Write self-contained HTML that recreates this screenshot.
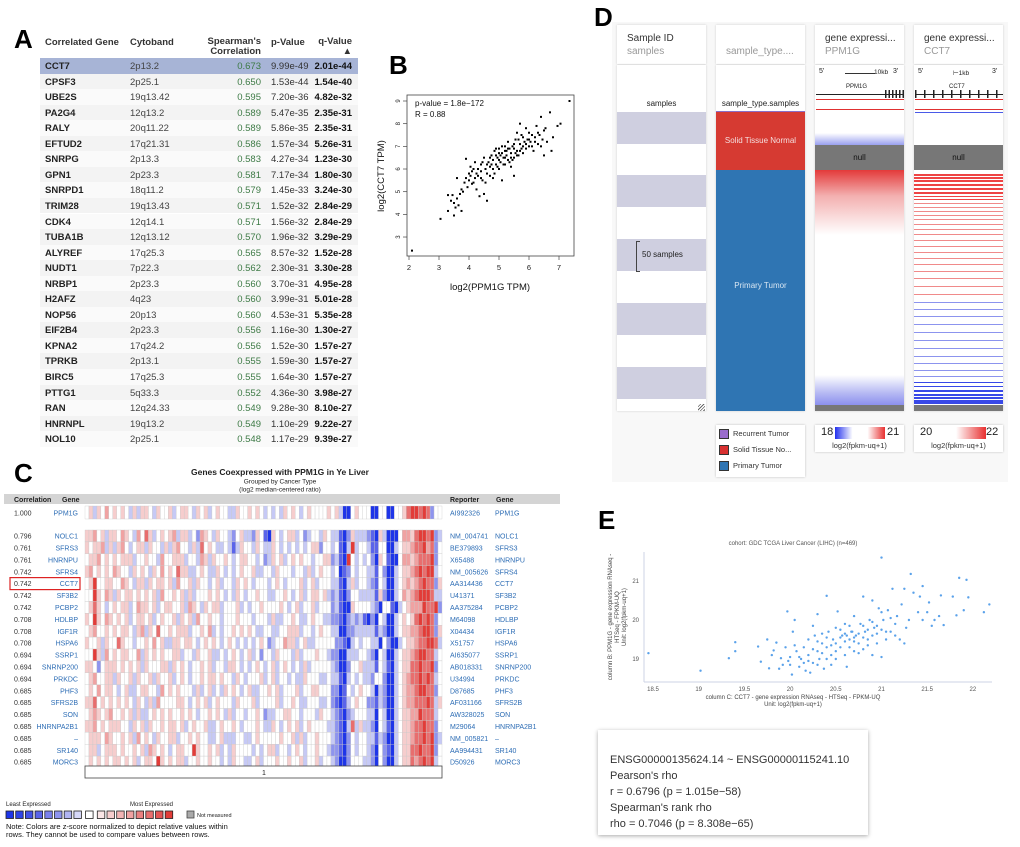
<!DOCTYPE html>
<html><head><meta charset="utf-8">
<style>
body{margin:0;background:#fff;font-family:"Liberation Sans",sans-serif;}
#root{position:relative;width:1020px;height:847px;overflow:hidden;background:#fff;}
.abs{position:absolute;white-space:nowrap;}
.lbl{position:absolute;font-weight:bold;font-size:26px;color:#000;}
.tr{position:absolute;left:40px;width:318px;height:15.5px;font-size:9.5px;color:#222;}
.tr span{position:absolute;top:3px;white-space:nowrap;}
</style></head><body>
<div id="root">

<!-- Panel A -->
<div class="lbl" style="left:14px;top:24px;">A</div>
<div class="abs" id="tableA" style="left:0;top:0;">
  <div class="abs" style="left:45px;top:37px;font-size:9.5px;font-weight:bold;color:#333;">Correlated Gene</div>
  <div class="abs" style="left:130px;top:37px;font-size:9.5px;font-weight:bold;color:#333;">Cytoband</div>
  <div class="abs" style="left:190px;width:71px;top:37px;font-size:9.5px;font-weight:bold;color:#333;text-align:right;line-height:10px;">Spearman's<br>Correlation</div>
  <div class="abs" style="left:271px;top:37px;font-size:9.5px;font-weight:bold;color:#333;">p-Value</div>
  <div class="abs" style="left:300px;width:52px;top:37px;font-size:9.5px;font-weight:bold;color:#333;text-align:right;line-height:10px;">q-Value<br>▲</div>
</div>

<!-- Panel B -->
<div class="lbl" style="left:389px;top:50px;">B</div>
<svg class="abs" id="svgB" style="left:370px;top:80px;" width="220" height="220"></svg>

<!-- Panel C -->
<div class="lbl" style="left:14px;top:458px;">C</div>
<svg class="abs" id="svgC" style="left:0;top:460px;" width="560" height="387"></svg>

<!-- Panel D -->
<div class="lbl" style="left:594px;top:2px;">D</div>
<div class="abs" style="left:612px;top:22px;width:396px;height:460px;background:#f8f8f8;"></div>
<div id="panelD"></div>

<!-- Panel E -->
<div class="lbl" style="left:598px;top:505px;">E</div>
<svg class="abs" id="svgE" style="left:590px;top:530px;" width="430" height="190"></svg>
<div class="abs" style="left:598px;top:730px;width:270px;height:105px;background:#fff;box-shadow:0 1px 4px #aaa;font-size:11px;color:#333;line-height:16px;padding:0;">
  <div style="position:absolute;left:12px;top:22px;white-space:nowrap;">ENSG00000135624.14 ~ ENSG00000115241.10<br>Pearson's rho<br>r = 0.6796 (p = 1.015e−58)<br>Spearman's rank rho<br>rho = 0.7046 (p = 8.308e−65)</div>
</div>
</div>

<script>
const NS='http://www.w3.org/2000/svg';
function S(p,tag,at,txt){const e=document.createElementNS(NS,tag);for(const k in at)e.setAttribute(k,at[k]);if(txt!==undefined)e.textContent=txt;p.appendChild(e);return e;}

/* ---------- Panel A data ---------- */
const genesA=['CCT7','CPSF3','UBE2S','PA2G4','RALY','EFTUD2','SNRPG','GPN1','SNRPD1','TRIM28','CDK4','TUBA1B','ALYREF','NUDT1','NRBP1','H2AFZ','NOP56','EIF2B4','KPNA2','TPRKB','BIRC5','PTTG1','RAN','HNRNPL','NOL10'];
const cytoA=['2p13.2','2p25.1','19q13.42','12q13.2','20q11.22','17q21.31','2p13.3','2p23.3','18q11.2','19q13.43','12q14.1','12q13.12','17q25.3','7p22.3','2p23.3','4q23','20p13','2p23.3','17q24.2','2p13.1','17q25.3','5q33.3','12q24.33','19q13.2','2p25.1'];
const corrA=['0.673','0.650','0.595','0.589','0.589','0.586','0.583','0.581','0.579','0.571','0.571','0.570','0.565','0.562','0.560','0.560','0.560','0.556','0.556','0.555','0.555','0.552','0.549','0.549','0.548'];
const pA=['9.99e-49','1.53e-44','7.20e-36','5.47e-35','5.86e-35','1.57e-34','4.27e-34','7.17e-34','1.45e-33','1.52e-32','1.56e-32','1.96e-32','8.57e-32','2.30e-31','3.70e-31','3.99e-31','4.53e-31','1.16e-30','1.52e-30','1.59e-30','1.64e-30','4.36e-30','9.28e-30','1.10e-29','1.17e-29'];
const qA=['2.01e-44','1.54e-40','4.82e-32','2.35e-31','2.35e-31','5.26e-31','1.23e-30','1.80e-30','3.24e-30','2.84e-29','2.84e-29','3.29e-29','1.52e-28','3.30e-28','4.95e-28','5.01e-28','5.35e-28','1.30e-27','1.57e-27','1.57e-27','1.57e-27','3.98e-27','8.10e-27','9.22e-27','9.39e-27'];
(function(){
 const t=document.getElementById('tableA');
 genesA.forEach((g,i)=>{
  const r=document.createElement('div');
  r.className='tr';
  r.style.top=(58+i*15.55)+'px';
  r.style.background=i===0?'#a7b4d6':(i%2?'#f3f3f3':'#fafafa');
  
  
  r.innerHTML=`<span style="left:5px;font-weight:bold">${g}</span><span style="left:90px;color:#444">${cytoA[i]}</span><span style="right:97px;color:#3d7a45">${corrA[i]}</span><span style="left:231px;color:#333">${pA[i]}</span><span style="right:6px;font-weight:bold;color:#111">${qA[i]}</span>`;
  t.appendChild(r);
 });
})();

/* ---------- Panel B data ---------- */
const bX=[2.1,3.05,3.3,3.3,3.4,3.45,3.5,3.5,3.55,3.6,3.6,3.65,3.7,3.75,3.75,3.8,3.85,3.9,3.9,3.95,4.0,4.0,4.05,4.1,4.1,4.15,4.2,4.2,4.25,4.3,4.3,4.35,4.4,4.4,4.45,4.5,4.5,4.55,4.6,4.6,4.65,4.7,4.7,4.75,4.8,4.8,4.85,4.9,4.9,4.95,5.0,5.0,5.05,5.1,5.1,5.15,5.2,5.2,5.25,5.3,5.3,5.35,5.4,5.4,5.45,5.5,5.5,5.55,5.6,5.6,5.65,5.7,5.7,5.75,5.8,5.8,5.85,5.9,5.9,5.95,6.0,6.0,6.05,6.1,6.15,6.2,6.25,6.3,6.35,6.4,6.45,6.5,6.5,6.6,6.7,6.75,6.8,6.95,7.05,7.35,4.6,4.7,4.8,4.9,5.0,5.1,5.2,5.3,5.4,5.5,5.5,5.6,5.7,5.8,5.9,6.0,6.1,6.2,5.2,5.35,5.0,4.95,4.4,4.25,4.15,4.05,5.65,5.45,5.25,5.15,5.55,6.3,6.4,4.55,4.75,4.85,5.05,5.75,6.55,4.45];
const bY=[2.4,3.8,4.85,4.15,4.6,4.85,3.95,4.5,4.3,4.7,5.6,4.4,4.9,4.15,5.1,5.0,5.4,5.6,6.45,5.2,5.8,5.5,6.1,5.35,5.9,6.0,5.6,6.3,5.1,5.7,6.0,4.8,5.9,6.2,5.5,6.5,4.9,6.0,5.8,4.6,6.3,6.1,5.7,6.6,6.0,6.4,5.8,6.9,6.2,6.5,6.0,6.7,6.3,5.5,7.0,6.5,6.8,6.2,6.6,7.2,6.4,6.9,6.1,6.7,7.0,5.7,6.5,7.3,6.8,7.6,6.6,7.1,8.0,6.9,7.4,6.7,7.2,7.8,6.9,7.3,7.0,7.6,7.2,7.5,6.8,7.4,7.9,7.1,7.5,8.3,7.3,6.6,7.7,7.2,8.5,6.8,7.4,7.9,8.0,9.0,6.2,6.5,5.6,6.6,6.4,6.7,6.5,6.9,6.5,6.9,7.1,6.6,6.8,7.0,7.1,7.3,7.0,7.2,7.0,6.3,6.9,6.1,5.6,5.8,5.4,5.7,7.3,6.4,6.8,6.2,6.7,7.6,7.0,5.4,6.2,6.8,6.6,7.5,7.8,6.3];
const bXTicks=[2,3,4,5,6,7];
const bYTicks=[3,4,5,6,7,8,9];
(function(){
 const g=document.getElementById('svgB');
 const ox=370,oy=80;
 const sx=v=>409-ox+(v-2)*30, sy=v=>101-oy-(v-9)*22.67;
 const fr=S(g,'rect',{x:407-ox,y:95-oy,width:167,height:161,fill:'none',stroke:'#444','stroke-width':0.8});
 
 bXTicks.forEach(v=>{S(g,'line',{x1:sx(v),x2:sx(v),y1:256-oy,y2:260-oy,stroke:'#444','stroke-width':0.7});
  const t=S(g,'text',{x:sx(v),y:270-oy,'font-size':7.5,'text-anchor':'middle',fill:'#222'},v);
  });
 bYTicks.forEach(v=>{S(g,'line',{x1:403-ox,x2:407-ox,y1:sy(v),y2:sy(v),stroke:'#444','stroke-width':0.7});
  const t=S(g,'text',{x:400-ox,y:sy(v),'font-size':6,'text-anchor':'middle',fill:'#222',transform:`rotate(-90 ${400-ox} ${sy(v)})`},v);
  });
 bX.forEach((x,i)=>{const c=S(g,'rect',{x:sx(x)-1,y:sy(bY[i])-1,width:2,height:2,fill:'#000'});
  });
 let t=S(g,'text',{x:415-ox,y:106-oy,'font-size':8,fill:'#111'},'p-value = 1.8e−172');
 t=S(g,'text',{x:415-ox,y:117-oy,'font-size':8,fill:'#111'},'R = 0.88');
 t=S(g,'text',{x:490-ox,y:290-oy,'font-size':9.5,'text-anchor':'middle',fill:'#111'},'log2(PPM1G TPM)');
 t=S(g,'text',{x:384-ox,y:176-oy,'font-size':9.5,'text-anchor':'middle',fill:'#111',transform:`rotate(-90 ${384-ox} ${176-oy})`},'log2(CCT7 TPM)');
})();

/* ---------- Panel C data ---------- */
const cCorr=['1.000','0.796','0.761','0.761','0.742','0.742','0.742','0.742','0.708','0.708','0.708','0.694','0.694','0.694','0.685','0.685','0.685','0.685','0.685','0.685','0.685'];
const cGenes=['PPM1G','NOLC1','SFRS3','HNRNPU','SFRS4','CCT7','SF3B2','PCBP2','HDLBP','IGF1R','HSPA6','SSRP1','SNRNP200','PRKDC','PHF3','SFRS2B','SON','HNRNPA2B1','–','SR140','MORC3'];
const cReporters=['AI992326','NM_004741','BE379893','X65488','NM_005626','AA314436','U41371','AA375284','M64098','X04434','X51757','AI635077','AB018331','U34994','D87685','AF031166','AW328025','M29064','NM_005821','AA994431','D50926'];
const cLevels=[
'453546454543535543544534554354534544335445454343435454345444454530045444004400445788787244',
'556453554654364753454563553426543544324533254105434553423443543310253332105300046657887823',
'545563535643455354435356443537454334313544354335434343434552443410383443114400345567786724',
'455645454555344544364455534436535445434554434235453454544344552310843434205410046656777824',
'564545465443545435464547553345433543434544533443544434435345443401243443314200345567878834',
'458445544654355354554536445354434534435454344434543444534534443310353443214300345656787725',
'448546535455454545364454535344454543435434454433445434534554532310244333315200346567888733',
'457543454553465545345544536543545534445343445444454345344534442310054444320441034566687782',
'548546545453455453454453545364454434445444344435334454334544332210232310204300345457878724',
'456445454554356354744545553445463434454545433443344555344345443300223333313200345566788725',
'544535447544344546453355455434545434543434345423446553453344444221034344330420034556778873',
'448536454554463545454455344354453343454345342443544435344454432200333443204300345567887734',
'554245554545453544455354543445453443554343454345345434353444443200244533314310345577877824',
'456445535445354453544534543445455454435434445345344343354443343310343433244200345677878734',
'454645543453345544364545444353453435454345334454534445344554442201434544303200345667887724',
'557454545454354353644445543454534544435444534444534454334443342101345442213200345667778735',
'456545644545353345454544545434454543534434454233445544344435443210234443304300345566877734',
'556454555443545354454554534544533454454344454335434545345444433210373533204310345567787724',
'455546544545364543544553445454433453334433454444454453534454443210243443313200345567787823',
'455345554544545365454345544854454534354444343455344345434454432210243443204210345577877824',
'454545455454534554854545534454454434354433453444544544534453443200244433204200345576787834'
];
const cColors=['#1e35e8','#5a64ea','#8e94ee','#c6c9f5','#ffffff','#f6cdcd','#f0a2a2','#e86e6e','#e23c38'];
(function(){
 const g=document.getElementById('svgC');const oy=460;
 const x0=85,x1=442,nC=cLevels[0].length,cw=(x1-x0)/nC;
 const rowY=i=>i===0?506:(530+(i-1)*11.9);
 let t=S(g,'text',{x:280,y:475-oy,'font-size':8.5,'font-weight':'bold','text-anchor':'middle',fill:'#222'},'Genes Coexpressed with PPM1G in Ye Liver');
 t=S(g,'text',{x:280,y:483.5-oy,'font-size':6.5,'text-anchor':'middle',fill:'#222'},'Grouped by Cancer Type');
 t=S(g,'text',{x:280,y:491.5-oy,'font-size':6.5,'text-anchor':'middle',fill:'#222'},'(log2 median-centered ratio)');
 const hb=S(g,'rect',{x:4,y:494-oy,width:556,height:10,fill:'#d4d4d4'});
 [['Correlation',14],['Gene',62],['Reporter',450],['Gene',496]].forEach(h=>{const e=S(g,'text',{x:h[1],y:502-oy,'font-size':7,'font-weight':'bold',fill:'#222'},h[0]);});
 cLevels.forEach((row,i)=>{
  const y=rowY(i)-oy;
  for(let j=0;j<nC;j++){const c=S(g,'rect',{x:x0+j*cw,y:y,width:cw,height:i===0?13:11.9,fill:cColors[+row[j]],stroke:'#c8c8c8','stroke-width':0.35});
   }
  const ty=y+(i===0?9.5:8.6);
  let e=S(g,'text',{x:14,y:ty,'font-size':7,fill:'#333'},cCorr[i]);
  e=S(g,'text',{x:78,y:ty,'font-size':7,fill:'#2d6db5','text-anchor':'end'},cGenes[i]);
  e=S(g,'text',{x:450,y:ty,'font-size':7,fill:'#2d6db5'},cReporters[i]);
  e=S(g,'text',{x:495,y:ty,'font-size':7,fill:'#2d6db5'},cGenes[i]);
 });
 const hl=S(g,'rect',{x:10,y:rowY(5)-oy,width:70,height:12,fill:'none',stroke:'#d22','stroke-width':1.2});
 const gb=S(g,'rect',{x:85,y:766-oy,width:357,height:12,fill:'#fff',stroke:'#444','stroke-width':0.8});
 t=S(g,'text',{x:264,y:775-oy,'font-size':7,'text-anchor':'middle',fill:'#222'},'1');
 t=S(g,'text',{x:6,y:806-oy,'font-size':6,fill:'#222'},'Least Expressed');
 t=S(g,'text',{x:130,y:806-oy,'font-size':6,fill:'#222'},'Most Expressed');
 const legC=['#1e35e8','#2f44e8','#4352e8','#5a64ea','#7a80ec','#8e94ee','#b0b4f2','#d6d8f8','#ffffff','#fae6e6','#f6cdcd','#f2b4b4','#f0a2a2','#ea8080','#e86e6e','#e45454','#e23c38'];
 legC.forEach((c,k)=>{const r=S(g,'rect',{x:6+k*9.7+(k>=8?2:0)+(k>=9?2:0),y:811-oy,width:7.5,height:7.5,fill:c,stroke:'#222','stroke-width':0.8});});
 const nm=S(g,'rect',{x:187,y:811-oy,width:7,height:7,fill:'#aaa',stroke:'#444','stroke-width':0.8});
 t=S(g,'text',{x:197,y:817-oy,'font-size':5.5,fill:'#222'},'Not measured');
 t=S(g,'text',{x:6,y:829-oy,'font-size':7.5,fill:'#111'},'Note: Colors are z-score normalized to depict relative values within');
 t=S(g,'text',{x:6,y:837-oy,'font-size':7.5,fill:'#111'},'rows. They cannot be used to compare values between rows.');
})();

/* ---------- Panel D ---------- */
const dRedStripes=[174,177,180,184,188,192,196,199,203,207,211,215,219,224,229,234,240,246,252,258,264,271,278,286,294];
const dBlueStripes=[302,309,316,324,332,340,348,356,363,370,376,382,386,390,394,397,400,402];
(function(){
 const p=document.getElementById('panelD');
 const cols=[617,716,815,914],w=89;
 function div(st,name,inter,html){const d=document.createElement('div');d.style.cssText='position:absolute;white-space:nowrap;'+st;if(html)d.innerHTML=html;p.appendChild(d);return d;}
 const heads=[['Sample ID','samples'],['','sample_type....'],['gene expressi...','PPM1G'],['gene expressi...','CCT7']];
 cols.forEach((x,i)=>{
  div(`left:${x}px;top:25px;width:${w}px;height:39px;background:#fff;box-shadow:0 0 2px #ccc;`,'column-header-card','true',
   `<div style="position:absolute;left:10px;top:8px;font-size:10px;color:#333">${heads[i][0]}</div><div style="position:absolute;left:10px;top:21px;font-size:10px;color:#999">${heads[i][1]}</div>`);
  div(`left:${x}px;top:65px;width:${w}px;height:346px;background:#fff;box-shadow:0 0 2px #ccc;`,'column-body','false');
 });
 div(`left:617px;top:99px;width:89px;text-align:center;font-size:8px;color:#222`,'samples-label','false','samples');
 [112,175,239,303,367].forEach(y=>div(`left:617px;top:${y}px;width:89px;height:32px;background:#cfcfe0;`,'sample-band','false'));
 div(`left:636px;top:241px;width:3px;height:29px;border:1px solid #444;border-right:none;`,'sample-bracket','false');
 div(`left:642px;top:250px;font-size:8px;color:#222`,'fifty-samples-label','false','50 samples');
 div(`left:716px;top:99px;width:89px;text-align:center;font-size:8px;color:#222`,'sample-type-label','false','sample_type.samples');
 div(`left:716px;top:111px;width:89px;height:1px;background:#8a6fc8;`,'recurrent-tumor-band','false');
 div(`left:716px;top:112px;width:89px;height:58px;background:#d63a32;color:#f4dede;font-size:8px;text-align:center;line-height:58px;`,'solid-tissue-normal-band','true','Solid Tissue Normal');
 div(`left:716px;top:170px;width:89px;height:241px;background:#2f75b3;color:#d8e6f2;font-size:8px;text-align:center;line-height:232px;`,'primary-tumor-band','true','Primary Tumor');
 div(`left:819px;top:68px;font-size:7px;color:#222`,'five-prime','false','5\'');
 div(`left:893px;top:68px;font-size:7px;color:#222`,'three-prime','false','3\'');
 div(`left:845px;top:73px;width:30px;height:1px;background:#333`,'scale-bar','false');
 div(`left:874px;top:69px;font-size:6.5px;color:#222`,'scale-label','false','10kb');
 div(`left:846px;top:84px;font-size:6px;color:#222`,'gene-name-ppm1g','false','PPM1G');
 div(`left:816px;top:94px;width:88px;height:1px;background:#222`,'gene-model-line','false');
 div(`left:885px;top:90px;width:19px;height:8px;background:repeating-linear-gradient(90deg,#222 0 1.5px,transparent 1.5px 3.5px)`,'exons','false');
 div(`left:816px;top:99px;width:88px;height:1px;background:#e03030`,'red-line','false');
 div(`left:816px;top:109px;width:88px;height:1px;background:#e03030`,'red-line-2','false');
 div(`left:815px;top:133px;width:89px;height:12px;background:linear-gradient(#fff,#9aa0f0)`,'blue-gradient','false');
 div(`left:815px;top:145px;width:89px;height:25px;background:#777;color:#111;font-size:8px;text-align:center;line-height:25px;`,'null-band','false','null');
 div(`left:815px;top:170px;width:89px;height:65px;background:linear-gradient(#e33a3a,#f3b0b0 40%,#fff)`,'red-gradient','false');
 div(`left:815px;top:375px;width:89px;height:30px;background:linear-gradient(#fff,#b6b9f3 60%,#8c90ee)`,'blue-gradient-bottom','false');
 div(`left:815px;top:405px;width:89px;height:6px;background:#777`,'null-bottom','false');
 div(`left:918px;top:68px;font-size:7px;color:#222`,'five-prime-cct7','false','5\'');
 div(`left:992px;top:68px;font-size:7px;color:#222`,'three-prime-cct7','false','3\'');
 div(`left:953px;top:69px;font-size:6.5px;color:#222`,'scale-label-cct7','false','⊢1kb');
 div(`left:949px;top:84px;font-size:6px;color:#222`,'gene-name-cct7','false','CCT7');
 div(`left:915px;top:94px;width:88px;height:1px;background:#222`,'gene-model-line-cct7','false');
 div(`left:915px;top:90px;width:88px;height:8px;background:repeating-linear-gradient(90deg,#222 0 1.3px,transparent 1.3px 9px)`,'exons-cct7','false');
 div(`left:915px;top:99px;width:88px;height:1px;background:#e03030`,'red-line-cct7','false');
 div(`left:915px;top:109px;width:88px;height:1px;background:#e03030`,'red-line-2-cct7','false');
 div(`left:915px;top:112px;width:88px;height:1px;background:#4a5ae8`,'blue-line-cct7','false');
 div(`left:914px;top:145px;width:89px;height:25px;background:#777;color:#111;font-size:8px;text-align:center;line-height:25px;`,'null-band-cct7','false','null');
 dRedStripes.forEach((y,k)=>{const d=document.createElement('div');d.style.cssText=`position:absolute;left:914px;top:${y}px;width:89px;height:${k<6?2:1.2}px;background:${k<8?'#e44':'#f08a8a'};`;
  p.appendChild(d);});
 dBlueStripes.forEach((y,k)=>{const d=document.createElement('div');d.style.cssText=`position:absolute;left:914px;top:${y}px;width:89px;height:${k>12?2:1.3}px;background:${k>10?'#3848e8':'#8c94ee'};`;
  p.appendChild(d);});
 div(`left:914px;top:405px;width:89px;height:6px;background:#777`,'null-bottom-cct7','false');
 div(`left:716px;top:425px;width:89px;height:52px;background:#fff;box-shadow:0 0 2px #bbb;font-size:7.5px;color:#333;`,'sample-type-legend','false',
  `<div style="position:absolute;left:3px;top:4px;width:8px;height:8px;background:#9a6ccc;border:1px solid #333"></div><div style="position:absolute;left:17px;top:4px">Recurrent Tumor</div>
   <div style="position:absolute;left:3px;top:20px;width:8px;height:8px;background:#d83030;border:1px solid #333"></div><div style="position:absolute;left:17px;top:20px">Solid Tissue No...</div>
   <div style="position:absolute;left:3px;top:36px;width:8px;height:8px;background:#2f75b3;border:1px solid #333"></div><div style="position:absolute;left:17px;top:36px">Primary Tumor</div>`);
 div(`left:815px;top:425px;width:89px;height:27px;background:#fff;box-shadow:0 0 2px #bbb;`,'ppm1g-color-scale','false',
  `<div style="position:absolute;left:6px;top:1px;font-size:11px;color:#222">18</div><div style="position:absolute;left:20px;top:2px;width:50px;height:12px;background:linear-gradient(90deg,#2230ee,#fff 35%,#fff 65%,#e83030)"></div><div style="position:absolute;left:72px;top:1px;font-size:11px;color:#222">21</div><div style="position:absolute;left:0;width:89px;top:16px;text-align:center;font-size:7.5px;color:#333">log2(fpkm-uq+1)</div>`);
 div(`left:914px;top:425px;width:89px;height:27px;background:#fff;box-shadow:0 0 2px #bbb;`,'cct7-color-scale','false',
  `<div style="position:absolute;left:6px;top:1px;font-size:11px;color:#222">20</div><div style="position:absolute;left:22px;top:2px;width:50px;height:12px;background:linear-gradient(90deg,#fff 40%,#e83030)"></div><div style="position:absolute;left:72px;top:1px;font-size:11px;color:#222">22</div><div style="position:absolute;left:0;width:89px;top:16px;text-align:center;font-size:7.5px;color:#333">log2(fpkm-uq+1)</div>`);
 div(`left:698px;top:404px;width:7px;height:7px;background:repeating-linear-gradient(135deg,transparent 0 1.5px,#666 1.5px 2.3px)`,'resize-handle','true');
})();

/* ---------- Panel E data ---------- */
const eX=[18.45,19.02,19.33,19.4,19.4,19.65,19.68,19.75,19.77,19.8,19.82,19.85,19.88,19.9,19.92,19.95,19.97,19.98,20.0,20.0,20.02,20.03,20.05,20.07,20.1,20.12,20.15,20.17,20.2,20.2,20.22,20.25,20.27,20.3,20.3,20.32,20.35,20.37,20.4,20.4,20.42,20.45,20.47,20.5,20.5,20.52,20.55,20.57,20.6,20.6,20.62,20.65,20.67,20.7,20.7,20.72,20.75,20.77,20.8,20.8,20.82,20.85,20.87,20.9,20.9,20.92,20.95,20.97,21.0,21.0,21.0,21.02,21.05,21.07,21.1,21.12,21.15,21.17,21.2,21.22,21.25,21.25,21.27,21.3,21.32,21.35,21.4,21.42,21.45,21.45,21.5,21.52,21.55,21.58,21.63,21.65,21.68,21.78,21.82,21.85,21.9,21.93,21.95,22.12,22.18,20.1,20.15,20.25,20.3,20.35,20.4,20.45,20.5,20.55,20.6,20.65,20.7,20.75,20.8,20.85,20.9,20.95,21.05,21.1,21.15,20.55,20.65,20.75,20.45,20.35,20.25,20.2,20.05,20.6,20.7,20.8,20.9,21.0,20.5,20.4,20.3,20.85,20.95,20.62,20.68];
const eY=[19.15,18.7,19.02,19.2,19.43,19.32,18.93,19.5,18.76,19.1,19.22,19.42,18.75,19.02,18.85,19.3,20.22,18.95,19.05,18.85,18.6,19.7,20.0,19.2,18.8,19.0,19.3,18.7,19.1,19.5,18.65,18.9,19.6,19.2,20.15,19.0,19.4,18.75,19.3,20.62,19.7,19.1,19.5,19.0,19.8,20.22,19.3,19.6,19.1,19.9,18.8,19.5,19.7,19.2,20.1,19.6,19.4,19.9,19.25,20.6,19.7,19.5,20.0,19.1,20.5,19.8,19.4,20.3,19.05,21.6,19.75,20.0,19.5,20.25,19.7,20.8,19.9,20.1,19.5,20.4,19.4,20.8,19.8,20.0,21.18,20.7,20.2,20.6,20.87,20.0,20.2,20.45,19.85,20.0,20.1,20.63,19.87,20.6,20.12,21.08,20.25,21.03,20.58,20.2,20.4,19.05,18.9,19.25,19.45,19.15,19.55,19.35,19.4,19.55,19.45,19.3,19.45,19.65,19.55,19.75,19.6,19.85,19.7,20.05,19.6,19.75,19.85,19.15,18.85,19.65,19.85,18.95,19.35,19.65,19.55,19.85,19.95,20.2,19.2,19.0,18.85,19.35,19.65,19.6,19.7];
const eXTicks=[18.5,19,19.5,20,20.5,21,21.5,22];
const eYTicks=[19,20,21];
(function(){
 const g=document.getElementById('svgE');const ox=590,oy=530;
 const sx=v=>653-ox+(v-18.5)*91.4, sy=v=>581-oy-(v-21)*39;
 let t=S(g,'text',{x:793-ox,y:545-oy,'font-size':6,'text-anchor':'middle',fill:'#555'},'cohort: GDC TCGA Liver Cancer (LIHC) (n=469)');
 let a=S(g,'line',{x1:644-ox,x2:644-ox,y1:552-oy,y2:682-oy,stroke:'#cdd3e6','stroke-width':1});
 a=S(g,'line',{x1:644-ox,x2:992-ox,y1:682-oy,y2:682-oy,stroke:'#cdd3e6','stroke-width':1});
 eXTicks.forEach(v=>{const e=S(g,'text',{x:sx(v),y:691-oy,'font-size':6,'text-anchor':'middle',fill:'#555'},v);});
 eYTicks.forEach(v=>{const e=S(g,'text',{x:639-ox,y:sy(v)+2,'font-size':6,'text-anchor':'end',fill:'#555'},v);});
 eX.forEach((x,i)=>{const c=S(g,'circle',{cx:sx(x),cy:sy(eY[i]),r:1.2,fill:'#5ba2ea'});});
 t=S(g,'text',{x:793-ox,y:699-oy,'font-size':6,'text-anchor':'middle',fill:'#444'},'column C: CCT7 - gene expression RNAseq - HTSeq - FPKM-UQ');
 t=S(g,'text',{x:793-ox,y:706-oy,'font-size':6,'text-anchor':'middle',fill:'#444'},'Unit: log2(fpkm-uq+1)');
 ['column B: PPM1G - gene expression RNAseq -','HTSeq - FPKM-UQ','Unit: log2(fpkm-uq+1)'].forEach((s,k)=>{const xx=612+k*7-ox,yy=617-oy;
  const e=S(g,'text',{x:xx,y:yy,'font-size':6,'text-anchor':'middle',fill:'#444',transform:`rotate(-90 ${xx} ${yy})`},s);});
})();
</script>
</body></html>
